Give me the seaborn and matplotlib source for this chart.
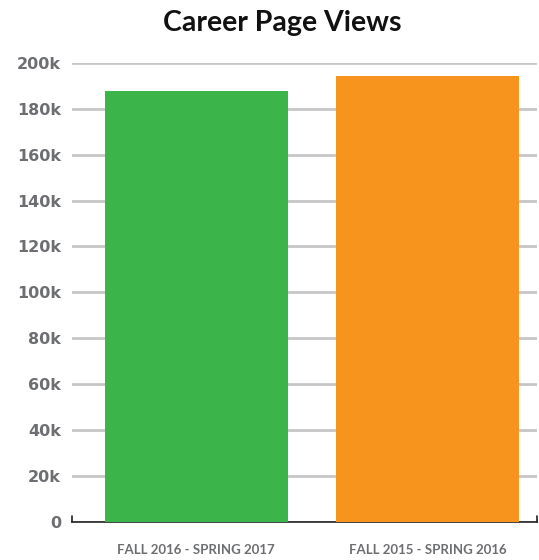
import matplotlib
matplotlib.use("Agg")
import matplotlib.pyplot as plt
import seaborn as sns
import pandas as pd

categories = ["FALL 2016 - SPRING 2017", "FALL 2015 - SPRING 2016"]
views = [187800, 194500]
colors = ["#3bb54a", "#f7941e"]
yticks = [0, 20000, 40000, 60000, 80000, 100000, 120000, 140000, 160000, 180000, 200000]
ytick_labels = ["0", "20k", "40k", "60k", "80k", "100k", "120k", "140k", "160k", "180k", "200k"]
title = "Career Page Views"

sns.set_style("white")
plt.rcParams["font.family"] = ["Lato", "DejaVu Sans"]

df = pd.DataFrame({"period": categories, "views": views})

fig = plt.figure(figsize=(5.39, 5.60), dpi=100)
ax = fig.add_axes([0.1336, 0.0684, 0.863, 0.8191])
sns.barplot(data=df, x="period", y="views", hue="period", palette=colors,
            width=0.79, saturation=1, legend=False, ax=ax, zorder=3,
            linewidth=0, edgecolor="none")

ax.set_ylim(0, 200000)
ax.set_xlim(-0.537, 0.472 + 1)
ax.set_yticks(yticks)
ax.set_yticklabels(ytick_labels)
ax.yaxis.grid(True, color="#c6c6c6", linewidth=2, zorder=0)
ax.set_axisbelow(True)
for s in ["top", "right", "left"]:
    ax.spines[s].set_visible(False)
ax.spines["bottom"].set_color("#222222")
ax.spines["bottom"].set_linewidth(1.2)
ax.tick_params(axis="y", length=0, pad=8, labelcolor="#6d6e71")
ax.tick_params(axis="x", length=0, pad=16, labelcolor="#6d6e71")
for lbl in ax.get_yticklabels():
    lbl.set_fontweight("bold")
    lbl.set_fontfamily(["DejaVu Sans"])
    lbl.set_fontsize(11.5)
for lbl in ax.get_xticklabels():
    lbl.set_fontweight("bold")
    lbl.set_fontsize(9.5)
ax.set_xlabel("")
ax.set_ylabel("")
# small end ticks on baseline
for xa in (0.0, 1.0):
    ax.plot([xa, xa], [0, 0.012], transform=ax.transAxes, color="#222222",
            linewidth=1.2, clip_on=False, zorder=5)

fig.text(0.523, 0.959, title, ha="center", va="center", fontsize=20.5,
         fontweight="bold", color="#111111")

fig.savefig("out.png", dpi=100)
